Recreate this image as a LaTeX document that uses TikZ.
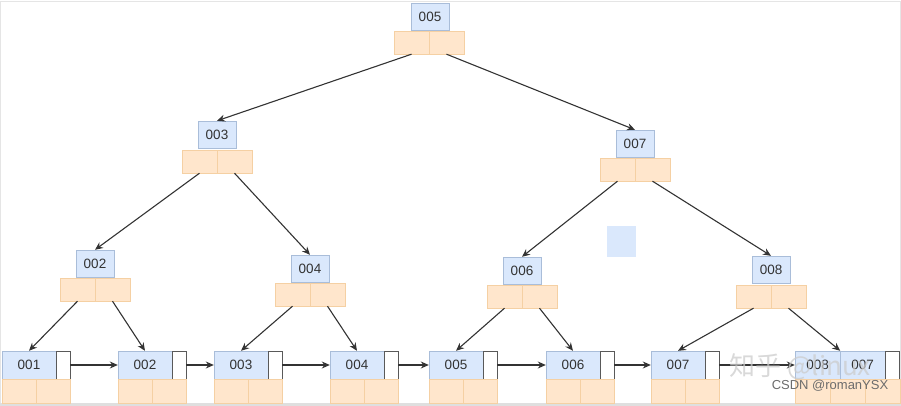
\documentclass[tikz,border=0pt]{standalone}
\usepackage{fontspec}
\setmainfont{Liberation Sans}
\newfontfamily\cjkfont{Noto Sans CJK SC}
\usetikzlibrary{arrows.meta}

\definecolor{keyblue}{HTML}{DAE8FC}
\definecolor{keyline}{HTML}{A9BDD9}
\definecolor{ptrorange}{HTML}{FFE6CC}
\definecolor{ptrline}{HTML}{F5D0A3}
\definecolor{inkgray}{HTML}{333333}

\tikzset{
  keybox/.style={draw=keyline, fill=keyblue, minimum width=38pt, minimum height=27pt,
    inner sep=0pt, text=inkgray, font=\fontsize{13.5}{15}\selectfont},
  ptrcell/.style={draw=ptrline, fill=ptrorange, minimum width=35pt, minimum height=23pt, inner sep=0pt},
  leafkey/.style={keybox, minimum width=54pt, minimum height=28pt},
  nextbox/.style={draw=gray!70!black, fill=white, minimum width=14pt, minimum height=28pt, inner sep=0pt},
  leafcell/.style={ptrcell, minimum width=34pt, minimum height=24pt},
  link/.style={draw=inkgray, line width=1.1pt, -{Stealth[length=8pt,width=7pt]}}
}

\begin{document}
\begin{tikzpicture}[x=1pt,y=-1pt]

        \useasboundingbox (0,0) rectangle (901,406);
        \draw[gray!20] (0.5,1) rectangle (900.5,403);
        \fill[gray!25] (0,403) rectangle (901,406);

        %root
        \node[keybox] (n5) at (430,16.5) {005};
        \node[ptrcell] (n5l) at (411.5,42.5) {};
        \node[ptrcell] (n5r) at (446.5,42.5) {};

        %second level
        \node[keybox] (n3) at (217,134.5) {003};
        \node[ptrcell] (n3l) at (199.5,161.5) {};
        \node[ptrcell] (n3r) at (234.5,161.5) {};

        \node[keybox] (n7) at (635,143.5) {007};
        \node[ptrcell] (n7l) at (617.5,169.5) {};
        \node[ptrcell] (n7r) at (652.5,169.5) {};

        %third level
        \node[keybox] (n2) at (95,263.5) {002};
        \node[ptrcell] (n2l) at (77.5,289.5) {};
        \node[ptrcell] (n2r) at (112.5,289.5) {};

        \node[keybox] (n4) at (310,268.5) {004};
        \node[ptrcell] (n4l) at (292.5,294.5) {};
        \node[ptrcell] (n4r) at (327.5,294.5) {};

        \node[keybox] (n6) at (522,270.5) {006};
        \node[ptrcell] (n6l) at (504.5,296.5) {};
        \node[ptrcell] (n6r) at (539.5,296.5) {};

        \node[keybox] (n8) at (771,269.5) {008};
        \node[ptrcell] (n8l) at (753.5,296.5) {};
        \node[ptrcell] (n8r) at (788.5,296.5) {};

        %stray square
        \node[fill=keyblue, minimum width=29pt, minimum height=31pt, inner sep=0pt] (dot) at (621.5,241.5) {};

        %leaves
        \node[leafkey] (b1) at (29,365) {001};
        \node[nextbox] (x1) at (63,365) {};
        \node[leafcell] (c1l) at (19,391) {};
        \node[leafcell] (c1r) at (53,391) {};

        \node[leafkey] (b2) at (145,365) {002};
        \node[nextbox] (x2) at (179,365) {};
        \node[leafcell] (c2l) at (135,391) {};
        \node[leafcell] (c2r) at (169,391) {};

        \node[leafkey] (b3) at (241,365) {003};
        \node[nextbox] (x3) at (275,365) {};
        \node[leafcell] (c3l) at (231,391) {};
        \node[leafcell] (c3r) at (265,391) {};

        \node[leafkey] (b4) at (357,365) {004};
        \node[nextbox] (x4) at (391,365) {};
        \node[leafcell] (c4l) at (347,391) {};
        \node[leafcell] (c4r) at (381,391) {};

        \node[leafkey] (b5) at (456,365) {005};
        \node[nextbox] (x5) at (490,365) {};
        \node[leafcell] (c5l) at (446,391) {};
        \node[leafcell] (c5r) at (480,391) {};

        \node[leafkey] (b6) at (573,365) {006};
        \node[nextbox] (x6) at (607,365) {};
        \node[leafcell] (c6l) at (563,391) {};
        \node[leafcell] (c6r) at (597,391) {};

        \node[leafkey] (b7) at (678,365) {007};
        \node[nextbox] (x7) at (712,365) {};
        \node[leafcell] (c7l) at (668,391) {};
        \node[leafcell] (c7r) at (702,391) {};

        \node[leafkey, minimum width=45pt] (b8a) at (817.5,365) {008};
        \node[leafkey, minimum width=45pt] (b8b) at (862.5,365) {007};
        \node[nextbox] (x8) at (892,365) {};
        \node[leafcell, minimum width=35pt] (c8a) at (812.5,391) {};
        \node[leafcell, minimum width=35pt] (c8b) at (847.5,391) {};
        \node[leafcell, minimum width=35pt] (c8c) at (882.5,391) {};

        %tree links
        \draw[link] (n5l.south) -- (n3.north);
        \draw[link] (n5r.south) -- (n7.north);
        \draw[link] (n3l.south) -- (n2.north);
        \draw[link] (n3r.south) -- (n4.north);
        \draw[link] (n7l.south) -- (n6.north);
        \draw[link] (n7r.south) -- (n8.north);
        \draw[link] (n2l.south) -- (b1.north);
        \draw[link] (n2r.south) -- (b2.north);
        \draw[link] (n4l.south) -- (b3.north);
        \draw[link] (n4r.south) -- (b4.north);
        \draw[link] (n6l.south) -- (b5.north);
        \draw[link] (n6r.south) -- (b6.north);
        \draw[link] (n8l.south) -- (b7.north);
        \draw[link] (n8r.south) -- (b8a.north east);

        %leaf chain
        \draw[link] (x1.east) -- (b2.west);
        \draw[link] (x2.east) -- (b3.west);
        \draw[link] (x3.east) -- (b4.west);
        \draw[link] (x4.east) -- (b5.west);
        \draw[link] (x5.east) -- (b6.west);
        \draw[link] (x6.east) -- (b7.west);
        \draw[link] (x7.east) -- (b8a.west);

        %watermarks
        \node[anchor=west, text=gray!40, opacity=0.75, inner sep=0pt,
              font=\cjkfont\fontsize{26}{28}\selectfont] (zhihu) at (729,367) {知乎 @linux};
        \node[text=gray!85!black, inner sep=0pt, font=\fontsize{13}{15}\selectfont] (csdn) at (830,386) {CSDN @romanYSX};

\end{tikzpicture}
\end{document}
